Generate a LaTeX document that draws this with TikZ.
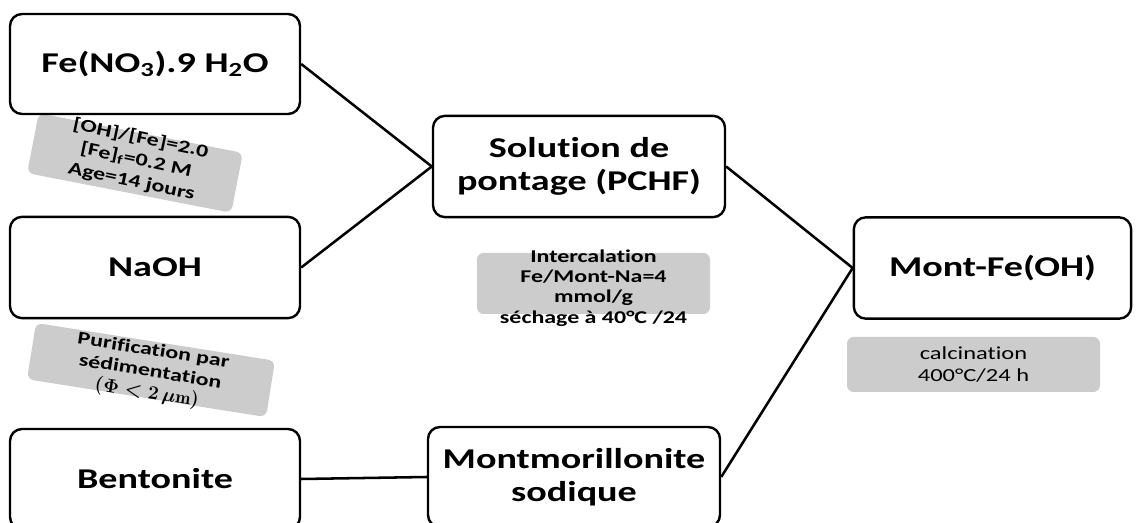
\documentclass[tikz,border=0pt]{standalone}
\usepackage{fontspec}
\newfontfamily\carlito[FakeStretch=1.33,Ligatures=NoCommon]{Carlito}
\definecolor{notegray}{RGB}{204,204,204}
\tikzset{
  stage/.style={draw, line width=1.8pt, rounded corners=9pt, fill=white,
    minimum width=217.5pt, minimum height=75pt, align=center,
    font=\carlito\bfseries\fontsize{21.5}{25}\selectfont},
  note/.style={fill=notegray, rounded corners=5pt, inner sep=0pt},
  notetext/.style={align=center, inner sep=0pt,
    font=\carlito\bfseries\fontsize{13.5}{16}\selectfont},
  link/.style={line width=1.9pt}
}
\begin{document}
\begin{tikzpicture}[x=0.75pt,y=0.75pt,yscale=-1,xscale=1]
\useasboundingbox (0,0) rectangle (1139,523);
\clip (0,0) rectangle (1139,523);

%Gray notes
\node[note, minimum width=156pt, minimum height=45.75pt, rotate=-11] (ratio) at (135,163) {};
\node[note, minimum width=181.5pt, minimum height=42.75pt, rotate=-9] (purif) at (151,370) {};
\node[note, minimum width=174.75pt, minimum height=45.75pt] (inter) at (593.5,283.5) {};
\node[note, minimum width=189.75pt, minimum height=41.25pt] (calc) at (973.5,364.5) {};

% Text Node
\node[notetext, rotate=-12, font=\carlito\bfseries\fontsize{13.5}{16.5}\selectfont] at (136,160) {[OH]/[Fe]=2.0\\{}[Fe]\textsubscript{f}=0.2 M\\Age=14 jours};
% Text Node
\node[notetext, rotate=-9] at (150,373) {Purification par\\sédimentation\\{\boldmath$(\Phi < 2\,\mu\mathrm{m})$}};
% Text Node
\node[notetext, font=\carlito\bfseries\fontsize{13.5}{15.2}\selectfont] at (593.5,288) {Intercalation\\Fe/Mont-Na=4\\mmol/g\\séchage à 40°C /24};
% Text Node
\node[notetext, font=\carlito\fontsize{13.8}{16.5}\selectfont] at (calc.center) {calcination\\400°C/24 h};

%Stages
\node[stage] (fe) at (155,64) {Fe(NO\textsubscript{3}).9 H\textsubscript{2}O};
\node[stage, minimum height=76pt] (naoh) at (155,267.5) {NaOH};
\node[stage] (bento) at (155,479) {Bentonite};
\node[stage, minimum width=219pt, minimum height=76pt] (pchf) at (579,166.5) {Solution de\\pontage (PCHF)};
\node[stage, minimum width=219pt] (montna) at (574,477) {Montmorillonite\\sodique};
\node[stage, minimum width=208pt, minimum height=76pt] (montfe) at (992.5,268) {Mont-Fe(OH)};

%Straight Lines
\draw[link] (fe.east) -- (pchf.west);
\draw[link] (naoh.east) -- (pchf.west);
\draw[link] (bento.east) -- (montna.west);
\draw[link] (pchf.east) -- (montfe.west);
\draw[link] (montna.east) -- (montfe.west);
\end{tikzpicture}
\end{document}
